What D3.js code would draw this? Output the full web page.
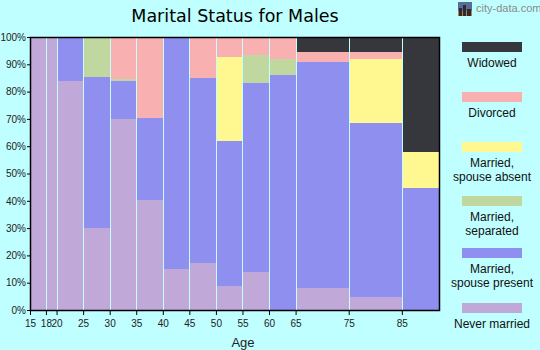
<!DOCTYPE html>
<html>
<head>
<meta charset="utf-8">
<script src="https://cdn.jsdelivr.net/npm/d3@7/dist/d3.min.js"></script>
<style>
  html, body { margin: 0; padding: 0; background: #bfffff; }
  svg { display: block; }
</style>
</head>
<body>
<svg id="chart" width="540" height="350"></svg>
<script>
// Age band edges (years); each band spans edges[i]..edges[i+1]
const ageEdges = [15, 18, 20, 25, 30, 35, 40, 45, 50, 55, 60, 65, 75, 85, 92];
const tickAges = [15, 18, 20, 25, 30, 35, 40, 45, 50, 55, 60, 65, 75, 85];
const yTicks = [0, 10, 20, 30, 40, 50, 60, 70, 80, 90, 100];

// Share of males (%) in each age band, by marital status
const neverMarried   = [100, 100, 84.0, 30.1, 70.0, 40.3, 15.0, 17.2, 8.8, 13.9, 0, 8.2, 4.8, 0];
const spousePresent  = [0, 0, 16.0, 55.3, 14.0, 30.1, 85.0, 67.9, 53.2, 69.3, 86.2, 82.7, 63.8, 44.7];
const separated      = [0, 0, 0, 14.6, 0.7, 0, 0, 0, 0, 10.1, 5.6, 0, 0, 0];
const spouseAbsent   = [0, 0, 0, 0, 0, 0, 0, 0, 30.8, 0, 0, 0, 23.4, 13.2];
const divorced       = [0, 0, 0, 0, 15.3, 29.6, 0, 14.9, 7.2, 6.7, 8.2, 3.7, 2.6, 0];
const widowed        = [0, 0, 0, 0, 0, 0, 0, 0, 0, 0, 0, 5.4, 5.4, 42.1];

const statusKeys = ["never", "present", "separated", "absent", "divorced", "widowed"];
const statusSeries = {
  never: neverMarried, present: spousePresent, separated: separated,
  absent: spouseAbsent, divorced: divorced, widowed: widowed
};
const colors = {
  never: "#c0a8d8", present: "#8f8ff0", separated: "#c0d8a0",
  absent: "#fff890", divorced: "#f8b0b0", widowed: "#36373c"
};
// Legend runs top to bottom
const legendItems = [
  { key: "widowed",   lines: ["Widowed"] },
  { key: "divorced",  lines: ["Divorced"] },
  { key: "absent",    lines: ["Married,", "spouse absent"] },
  { key: "separated", lines: ["Married,", "separated"] },
  { key: "present",   lines: ["Married,", "spouse present"] },
  { key: "never",     lines: ["Never married"] }
];

const svg = d3.select("#chart");
const plotLeft = 30, plotRight = 439, plotTop = 37, plotBottom = 310;

const x = d3.scaleLinear().domain([15, 92]).range([plotLeft, plotRight]);
const y = d3.scaleLinear().domain([0, 1]).range([plotBottom, plotTop]);

const rows = ageEdges.slice(0, -1).map((a, i) => {
  const r = { start: a, end: ageEdges[i + 1] };
  statusKeys.forEach(k => r[k] = statusSeries[k][i]);
  return r;
});

const stacked = d3.stack().keys(statusKeys).offset(d3.stackOffsetExpand)(rows);

// Title
svg.append("text")
  .attr("x", 235).attr("y", 22)
  .attr("text-anchor", "middle")
  .style("font-family", "DejaVu Sans, Verdana, sans-serif")
  .style("font-size", "17.5px")
  .attr("fill", "#000")
  .text("Marital Status for Males");

// Site mark
const mark = svg.append("g").attr("transform", "translate(458,2)");
mark.append("rect").attr("width", 14).attr("height", 14).attr("fill", "#5a6c96");
mark.append("rect").attr("y", 9).attr("width", 14).attr("height", 5).attr("fill", "#c08040");
[[1, 6, 3, 8], [5, 3, 3, 11], [9, 7, 4, 7]].forEach(b =>
  mark.append("rect").attr("x", b[0]).attr("y", b[1]).attr("width", b[2]).attr("height", b[3]).attr("fill", "#2a2a30"));
svg.append("text")
  .attr("x", 476).attr("y", 12)
  .style("font-family", "Liberation Sans, Arial, sans-serif")
  .style("font-size", "11px")
  .attr("fill", "#8a8a8a")
  .text("city-data.com");

// Stacked bands, snapped to whole pixels
const px = v => Math.round(v);
const plot = svg.append("g");
stacked.forEach(layer => {
  plot.selectAll(null)
    .data(layer)
    .join("rect")
    .attr("x", d => px(x(d.data.start)))
    .attr("width", d => px(x(d.data.end)) - px(x(d.data.start)))
    .attr("y", d => px(y(d[1])))
    .attr("height", d => Math.max(0, px(y(d[0])) - px(y(d[1]))))
    .attr("fill", colors[layer.key])
    .attr("shape-rendering", "crispEdges");
});

// Separators between age bands
plot.selectAll("rect.sep")
  .data(ageEdges.slice(1, -1))
  .join("rect")
  .attr("class", "sep")
  .attr("x", d => px(x(d)))
  .attr("width", 1)
  .attr("y", plotTop).attr("height", plotBottom - plotTop)
  .attr("fill", "#c4ffff")
  .attr("shape-rendering", "crispEdges");

// Frame
svg.append("rect")
  .attr("x", plotLeft + 0.5).attr("y", plotTop + 0.5)
  .attr("width", plotRight - plotLeft).attr("height", plotBottom - plotTop)
  .attr("fill", "none").attr("stroke", "#000").attr("stroke-width", 1.5);

// Axes
const xAxis = d3.axisBottom(x).tickValues(tickAges).tickSize(5).tickSizeOuter(0)
  .tickFormat(d3.format("d"));
const gx = svg.append("g").attr("transform", `translate(0,${plotBottom})`).call(xAxis);
gx.select(".domain").remove();

const yAxis = d3.axisLeft(y).tickValues(yTicks.map(v => v / 100)).tickSize(3).tickSizeOuter(0)
  .tickFormat(d => Math.round(d * 100) + "%");
const gy = svg.append("g").attr("transform", `translate(${plotLeft},0)`).call(yAxis);
gy.select(".domain").remove();

[gx, gy].forEach(g => {
  g.selectAll("text")
    .style("font-family", "Liberation Sans, Arial, sans-serif")
    .style("font-size", "10px")
    .attr("fill", "#222");
  g.selectAll("line").attr("stroke", "#000");
});
gx.selectAll("text").attr("dy", "0.9em");
gy.selectAll("text").attr("x", -4);

// Axis title
svg.append("text")
  .attr("x", 243).attr("y", 347)
  .attr("text-anchor", "middle")
  .style("font-family", "Liberation Sans, Arial, sans-serif")
  .style("font-size", "13px")
  .attr("fill", "#222")
  .text("Age");

// Legend
const swatchTops = [42, 92, 142, 196, 248, 303];
const legend = svg.append("g");
legendItems.forEach((item, i) => {
  const t = swatchTops[i];
  legend.append("rect")
    .attr("x", 462).attr("y", t).attr("width", 60).attr("height", 10)
    .attr("fill", colors[item.key]);
  item.lines.forEach((ln, j) => {
    legend.append("text")
      .attr("x", 492).attr("y", t + 25 + j * 13.5)
      .attr("text-anchor", "middle")
      .style("font-family", "Liberation Sans, Arial, sans-serif")
      .style("font-size", "12px")
      .attr("fill", "#111")
      .text(ln);
  });
});
</script>
</body>
</html>
